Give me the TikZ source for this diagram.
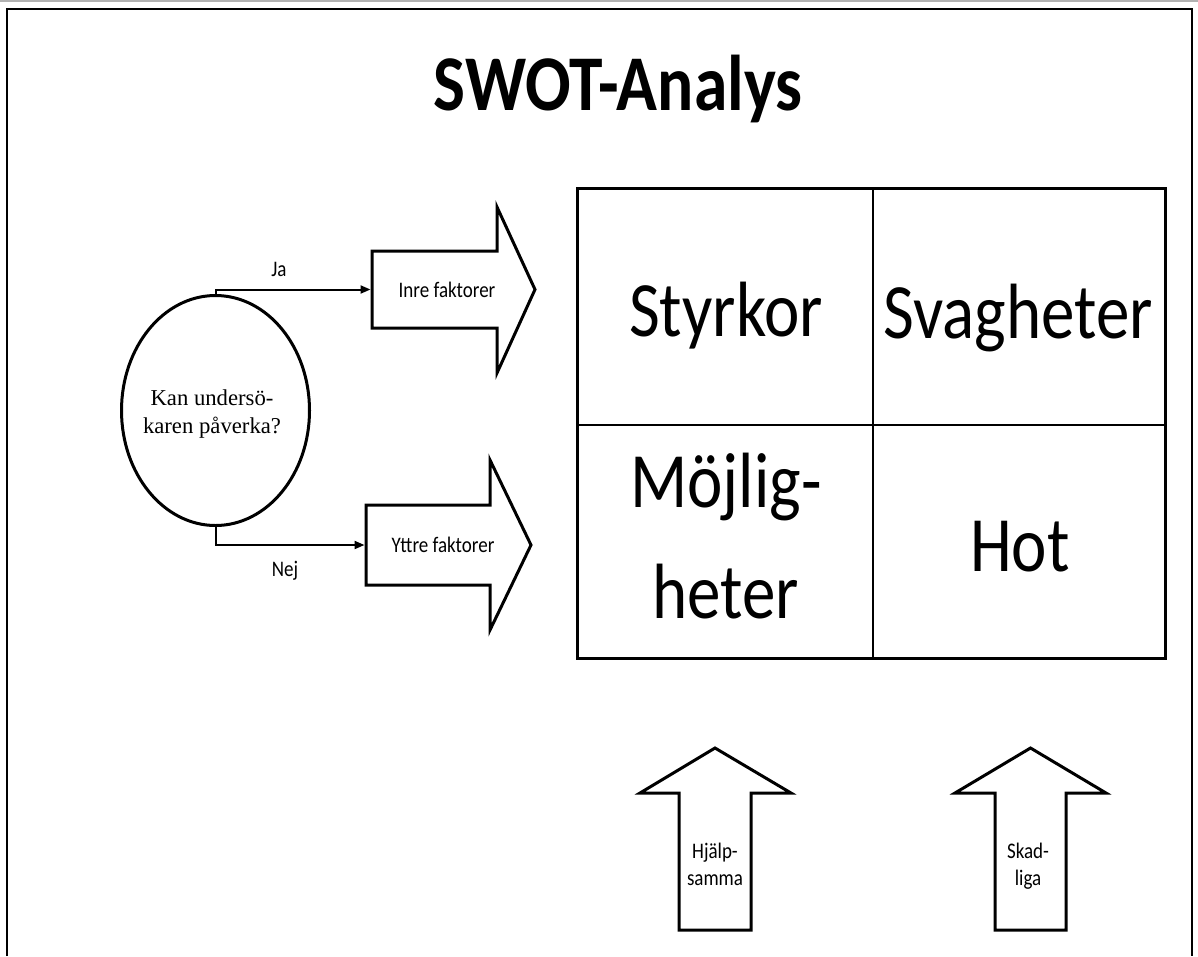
\documentclass[tikz,border=0pt]{standalone}
\usepackage{fontspec}
\setmainfont{Carlito}
\newfontfamily\timesfont{Liberation Serif}
\usetikzlibrary{shapes.geometric,arrows.meta}

\newcommand{\tallbox}[1]{\scalebox{1}[1.17]{#1}}

\begin{document}
\begin{tikzpicture}[x=1pt, y=-1pt,
    cell/.style={font=\fontsize{67}{111}\selectfont, anchor=base, align=center},
    small/.style={font=\fontsize{19}{27}\selectfont, anchor=base, align=center},
    blockarrow/.style={draw, line width=3pt, line join=miter},
    link/.style={line width=2pt, -{Triangle[length=10pt,width=8pt]}}]

    \useasboundingbox (0,0) rectangle (1198,956);

    % frame
    \draw[gray!60, line width=2pt] (0,1) -- (1198,1);
    \draw[line width=2.5pt] (7,956) -- (7,9) -- (1192,9) -- (1192,956);

    \node[font=\fontsize{67.5}{80}\selectfont\bfseries, anchor=base] (title) at (618,110) {\tallbox{SWOT-Analys}};

    % SWOT grid
    \draw[line width=2pt] (873,188) -- (873,658);
    \draw[line width=2pt] (577,425) -- (1165,425);
    \draw[line width=3pt] (577,188) rectangle (1165,658);

    % multi-line nodes sit on the baseline of their last line
    \node[cell] (styrkor) at (726,336) {\tallbox{Styrkor}};
    \node[cell] (svagheter) at (1018,338) {\tallbox{Svagheter}};
    \node[cell] (mojligheter) at (726,618) {\tallbox{Möjlig-}\\\tallbox{heter}};
    \node[cell] (hot) at (1020,571) {\tallbox{Hot}};

    % question
    \node[draw, ellipse, line width=3pt, minimum width=188, minimum height=230, inner sep=0pt] (question) at (215.5,410.5) {};
    \node[font=\timesfont\fontsize{22.7}{28}\selectfont, align=center, anchor=base] (questiontext) at (212,433) {Kan undersö-\\karen påverka?};

    % block arrows
    \draw[blockarrow] (372,251) -- (497,251) -- (497,207) -- (535,289.5) -- (497,373) -- (497,328) -- (372,328) -- cycle;
    \draw[blockarrow] (366,505) -- (490,505) -- (490,460) -- (531,545) -- (490,630) -- (490,585) -- (366,585) -- cycle;
    \draw[blockarrow] (679,930) -- (679,793) -- (640,793) -- (715,748) -- (791,793) -- (751,793) -- (751,930) -- cycle;
    \draw[blockarrow] (995,930) -- (995,793) -- (955,793) -- (1030.5,748) -- (1106,793) -- (1066,793) -- (1066,930) -- cycle;

    \coordinate (inreTail) at (370.5,289.5);
    \coordinate (yttreTail) at (364.5,545);

    \node[small] (inre) at (447,297) {\tallbox{Inre faktorer}};
    \node[small] (yttre) at (443,552) {\tallbox{Yttre faktorer}};
    \node[small] (hjalpsamma) at (715,885) {\tallbox{Hjälp-}\\\tallbox{samma}};
    \node[small] (skadliga) at (1028,885) {\tallbox{Skad-}\\\tallbox{liga}};

    % connectors
    \draw[link] (question.north) -- (question.north |- inreTail) -- (inreTail);
    \draw[link] (question.south) -- (question.south |- yttreTail) -- (yttreTail);
    \node[small] (ja) at (279,276) {\tallbox{Ja}};
    \node[small] (nej) at (285,576) {\tallbox{Nej}};

\end{tikzpicture}
\end{document}
